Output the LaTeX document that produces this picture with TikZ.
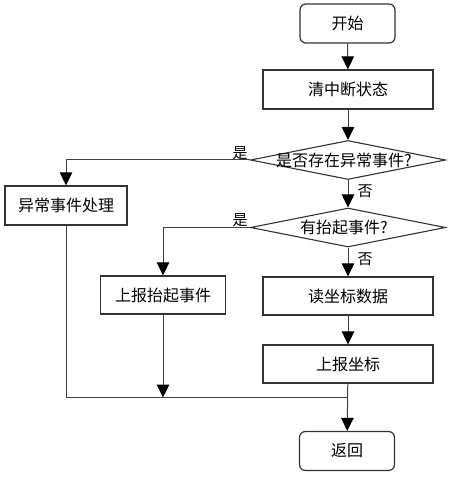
\documentclass[tikz,border=0pt]{standalone}
\usepackage{fontspec}
\setmainfont{Noto Sans CJK SC}
\usetikzlibrary{shapes.geometric,arrows.meta}
\begin{document}
\begin{tikzpicture}[x=1pt,y=-1pt,
  box/.style={draw=black!80,line width=1.2pt,fill=white,inner sep=0pt,font=\fontsize{16}{16}\selectfont},
  rbox/.style={box,rounded corners=6pt},
  dia/.style={diamond,draw=black!80,line width=1.1pt,inner sep=0pt,fill=white},
  dtext/.style={font=\fontsize{16}{16}\selectfont,inner sep=0pt},
  arr/.style={draw=black!75,line width=1pt,-{Triangle[length=13pt,width=12.5pt,color=black]}},
  ln/.style={draw=black!75,line width=1pt},
  lab/.style={font=\fontsize{15}{15}\selectfont,inner sep=0pt}
]
\useasboundingbox (0,0) rectangle (454,478);
\node[rbox,minimum width=95pt,minimum height=39pt] (start) at (347.5,23.5) {开始};
\node[box,minimum width=170pt,minimum height=39pt] (clr) at (348,89.5) {清中断状态};
\node[dia,minimum width=195pt,minimum height=39pt] (d1) at (348,160) {};
\node[dtext] (d1t) at (344,160) {是否存在异常事件?};
\node[box,minimum width=122pt,minimum height=39pt] (err) at (66,205.5) {异常事件处理};
\node[dia,minimum width=195pt,minimum height=39pt] (d2) at (348,227.5) {};
\node[dtext] (d2t) at (344,227.5) {有抬起事件?};
\node[box,minimum width=125pt,minimum height=38pt] (up1) at (163,295) {上报抬起事件};
\node[box,minimum width=170pt,minimum height=38pt] (read) at (348,296) {读坐标数据};
\node[box,minimum width=170pt,minimum height=38pt] (rep) at (348,364) {上报坐标};
\node[rbox,minimum width=95pt,minimum height=39pt] (ret) at (347,451) {返回};
\coordinate (m) at (348,397.5);
\coordinate (m1) at (163,397.5);

\draw[arr] (start) -- (clr);
\draw[arr] (clr) -- (d1.north);
\draw[arr] (d1.west) -| (err.north);
\draw[arr] (d1.south) -- (d2.north);
\draw[arr] (d2.west) -| (up1.north);
\draw[arr] (d2.south) -- (read.north);
\draw[arr] (read) -- (rep);
\draw[arr] (rep) -- (ret);
\draw[ln] (err.south) |- (m);
\draw[arr] (up1.south) -- (m1);

\node[lab] (y1) at (240,153) {是};
\node[lab] (n1) at (365,191) {否};
\node[lab] (y2) at (240,220) {是};
\node[lab] (n2) at (365,259) {否};
\end{tikzpicture}
\end{document}
